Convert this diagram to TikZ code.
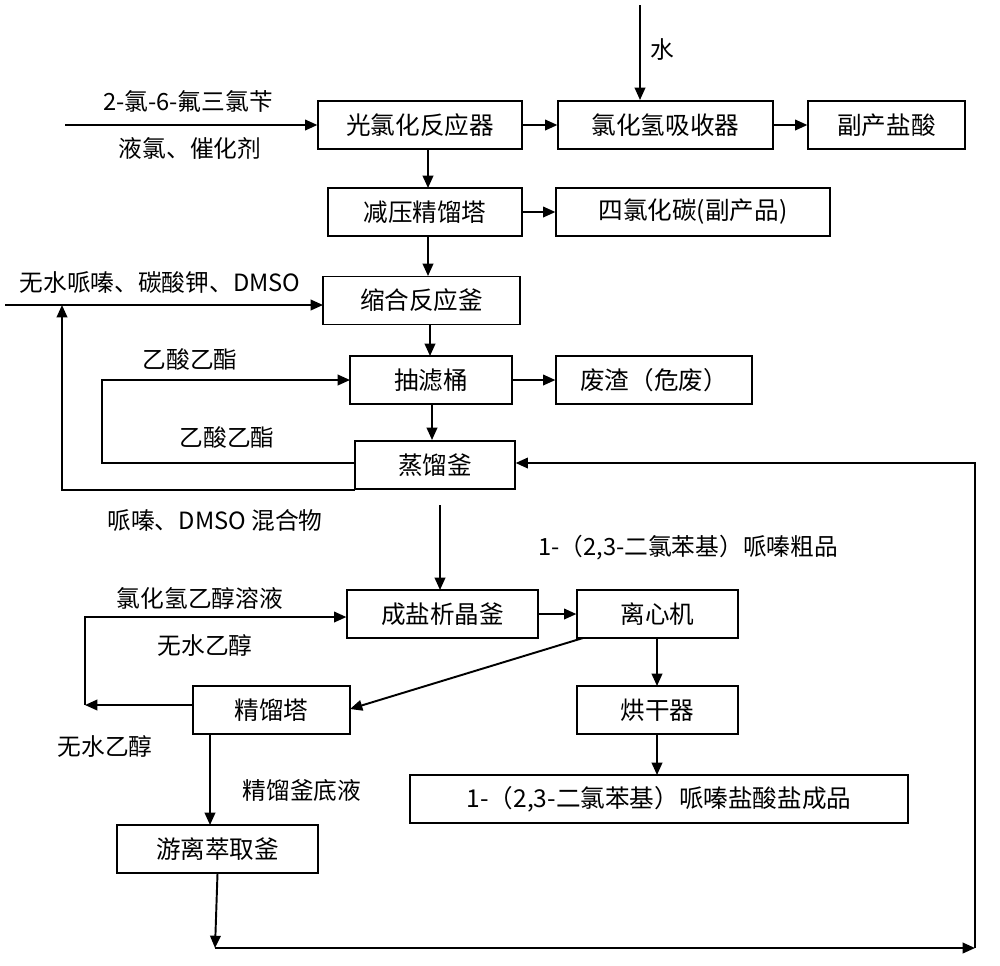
\documentclass[tikz,border=0pt]{standalone}
\usepackage{fontspec}
\setmainfont{Liberation Serif}
\newfontfamily\cjk{Noto Sans CJK SC}
\usetikzlibrary{arrows.meta}
\begin{document}
\begin{tikzpicture}[x=0.02cm,y=-0.02cm,
  box/.style={draw,line width=0.7pt,minimum height=0.96cm,inner sep=0pt,font=\cjk\fontsize{14}{16}\selectfont},
  lab/.style={font=\cjk\fontsize{13.5}{16}\selectfont,inner sep=0pt},
  ar/.style={line width=1.1pt,-{Triangle[length=7pt,width=6pt]}},
  ln/.style={line width=1.1pt}]
\useasboundingbox (0,0) rectangle (1000,965);
\newcommand{\bx}[6]{\node[box,minimum width={(#4-#2)*0.02cm}] (#1) at ({(#2+#4)/2},{(#3+#5)/2}) {#6};}
\bx{gl}{318}{100}{522}{150}{光氯化反应器}
\bx{hcl}{558}{100}{773}{150}{氯化氢吸收器}
\bx{fy}{808}{100}{965}{150}{副产盐酸}
\bx{jy}{328}{188}{522}{236}{减压精馏塔}
\bx{ccl}{556}{188}{830}{236}{四氯化碳(副产品)}
\bx{sh}{323}{276}{520}{325}{缩合反应釜}
\bx{cl}{350}{356}{512}{404}{抽滤桶}
\bx{fz}{556}{356}{752}{404}{废渣（危废）}
\bx{zl}{355}{440}{515}{490}{蒸馏釜}
\bx{cy}{347}{590}{538}{638}{成盐析晶釜}
\bx{lx}{577}{590}{738}{638}{离心机}
\bx{jl}{193}{686}{350}{734}{精馏塔}
\bx{hg}{577}{686}{738}{734}{烘干器}
\bx{cp}{410}{775}{908}{823}{1-（2,3-二氯苯基）哌嗪盐酸盐成品}
\bx{yl}{117}{825}{318}{873}{游离萃取釜}
% top
\coordinate (s1) at (65,125);
\draw[ar] (s1) -- (gl.west);
\node[lab] at (188,101) {2-氯-6-氟三氯苄};
\node[lab] at (190,148) {液氯、催化剂};
\coordinate (w) at (640,5);
\draw[ar] (w) -- (640,100);
\node[lab] at (662,50) {水};
\draw[ar] (gl) -- (hcl);
\draw[ar] (hcl) -- (fy);
\draw[ar] (428,150) -- (428,188);
\draw[ar] (jy) -- (ccl);
\draw[ar] (428,236) -- (428,276);
% condensation feed
\draw[ar] (5,305) -- (323,305);
\node[lab] at (160,283) {无水哌嗪、碳酸钾、DMSO};
\draw[ar] (355,490) -- (62,490) -- (62,305);
\node[lab] at (215,520) {哌嗪、DMSO 混合物};
\draw[ar] (430,325) -- (430,356);
% ethyl acetate loop
\draw[ar] (355,463) -- (102,463) -- (102,380) -- (350,380);
\node[lab] at (190,360) {乙酸乙酯};
\node[lab] at (227,438) {乙酸乙酯};
\draw[ar] (cl) -- (fz);
\draw[ar] (432,404) -- (432,440);
% crude
\draw[ar] (440,505) -- (440,590);
\node[lab] at (688,548) {1-（2,3-二氯苯基）哌嗪粗品};
% right loop
\draw[ar] (yl.south) -- (215,948);
\draw[ar] (215,948) -- (975,948);
\draw[ar] (975,948) -- (975,463) -- (zl.east |- 0,463);
% salt
\draw[ar] (85,705) -- (85,617) -- (cy.west |- 0,617);
\draw[ar] (jl.west |- 0,705) -- (85,705);
\node[lab] at (200,598) {氯化氢乙醇溶液};
\node[lab] at (205,645) {无水乙醇};
\node[lab] at (105,746) {无水乙醇};
\draw[ar] (cy) -- (lx);
\draw[ar] (583,638) -- (350,709);
\draw[ar] (657,638) -- (657,686);
\draw[ar] (657,734) -- (657,775);
\draw[ar] (210,734) -- (210,825);
\node[lab] at (302,790) {精馏釜底液};
\end{tikzpicture}
\end{document}
